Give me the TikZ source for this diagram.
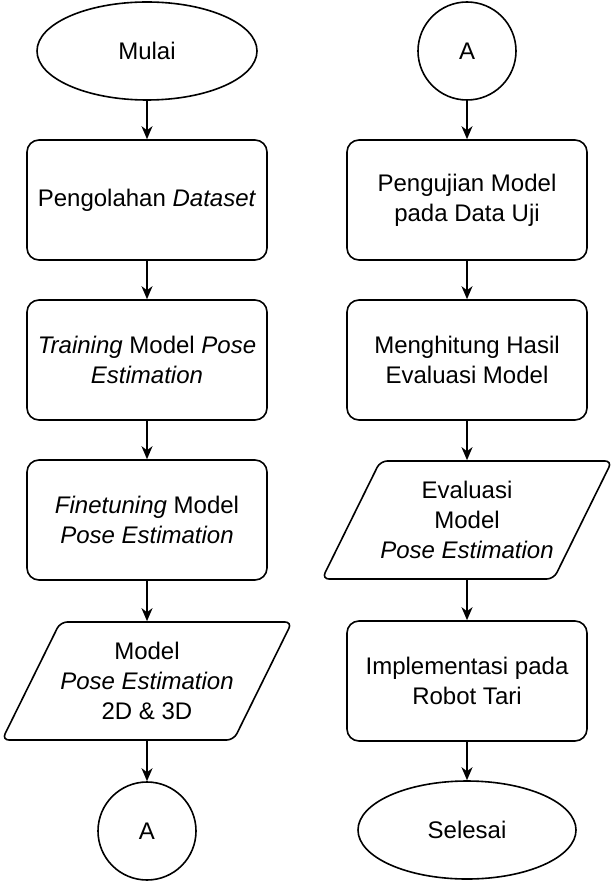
\documentclass[tikz,border=0pt]{standalone}
\usepackage{fontspec}
\setmainfont{Liberation Sans}
\usetikzlibrary{shapes.geometric,arrows.meta}

\begin{document}
\begin{tikzpicture}[x=1pt, y=-1pt,
		font=\fontsize{24}{30}\selectfont,
		proses/.style={draw, line width=1.6pt, rounded corners=12pt, minimum width=240pt, minimum height=120pt, align=center},
		data/.style={draw, line width=1.6pt, trapezium, trapezium left angle=62, trapezium right angle=118, trapezium stretches body=true, minimum width=280pt, minimum height=118pt, rounded corners=7pt, inner xsep=0pt, inner ysep=16pt, align=center},
		terminal/.style={draw, line width=1.6pt, ellipse, minimum width=220pt, minimum height=98pt},
		konektor/.style={draw, line width=1.6pt, circle, minimum size=98pt},
		panah/.style={-{Stealth[length=13pt, width=11pt, inset=4pt]}, line width=1.6pt}]
				\useasboundingbox (0, 0) rectangle (612, 882);
				\node[terminal] (mulai) at (147, 51) {Mulai};
				\node[proses] (dataset) at (147, 200) {Pengolahan \textit{Dataset}};
				\node[proses] (training) at (147, 360) {\textit{Training} Model \textit{Pose}\\\textit{Estimation}};
				\node[proses] (finetune) at (147, 520) {\textit{Finetuning} Model\\\textit{Pose Estimation}};
				\node[data] (model) at (147, 681) {Model\\\textit{Pose Estimation}\\2D \& 3D};
				\node[konektor] (akhirA) at (147, 831) {A};
				\node[konektor] (awalA) at (467, 51) {A};
				\node[proses] (uji) at (467, 200) {Pengujian Model\\pada Data Uji};
				\node[proses] (hitung) at (467, 360) {Menghitung Hasil\\Evaluasi Model};
				\node[data] (evaluasi) at (467, 520) {Evaluasi\\Model\\\textit{Pose Estimation}};
				\node[proses] (robot) at (467, 681) {Implementasi pada\\Robot Tari};
				\node[terminal, minimum width=218pt] (selesai) at (467, 830) {Selesai};
				\draw[panah] (mulai) -- (dataset);
				\draw[panah] (dataset) -- (training);
				\draw[panah] (training) -- (finetune);
				\draw[panah] (finetune) -- (model);
				\draw[panah] (model) -- (akhirA);
				\draw[panah] (awalA) -- (uji);
				\draw[panah] (uji) -- (hitung);
				\draw[panah] (hitung) -- (evaluasi);
				\draw[panah] (evaluasi) -- (robot);
				\draw[panah] (robot) -- (selesai);
			\end{tikzpicture}
\end{document}
